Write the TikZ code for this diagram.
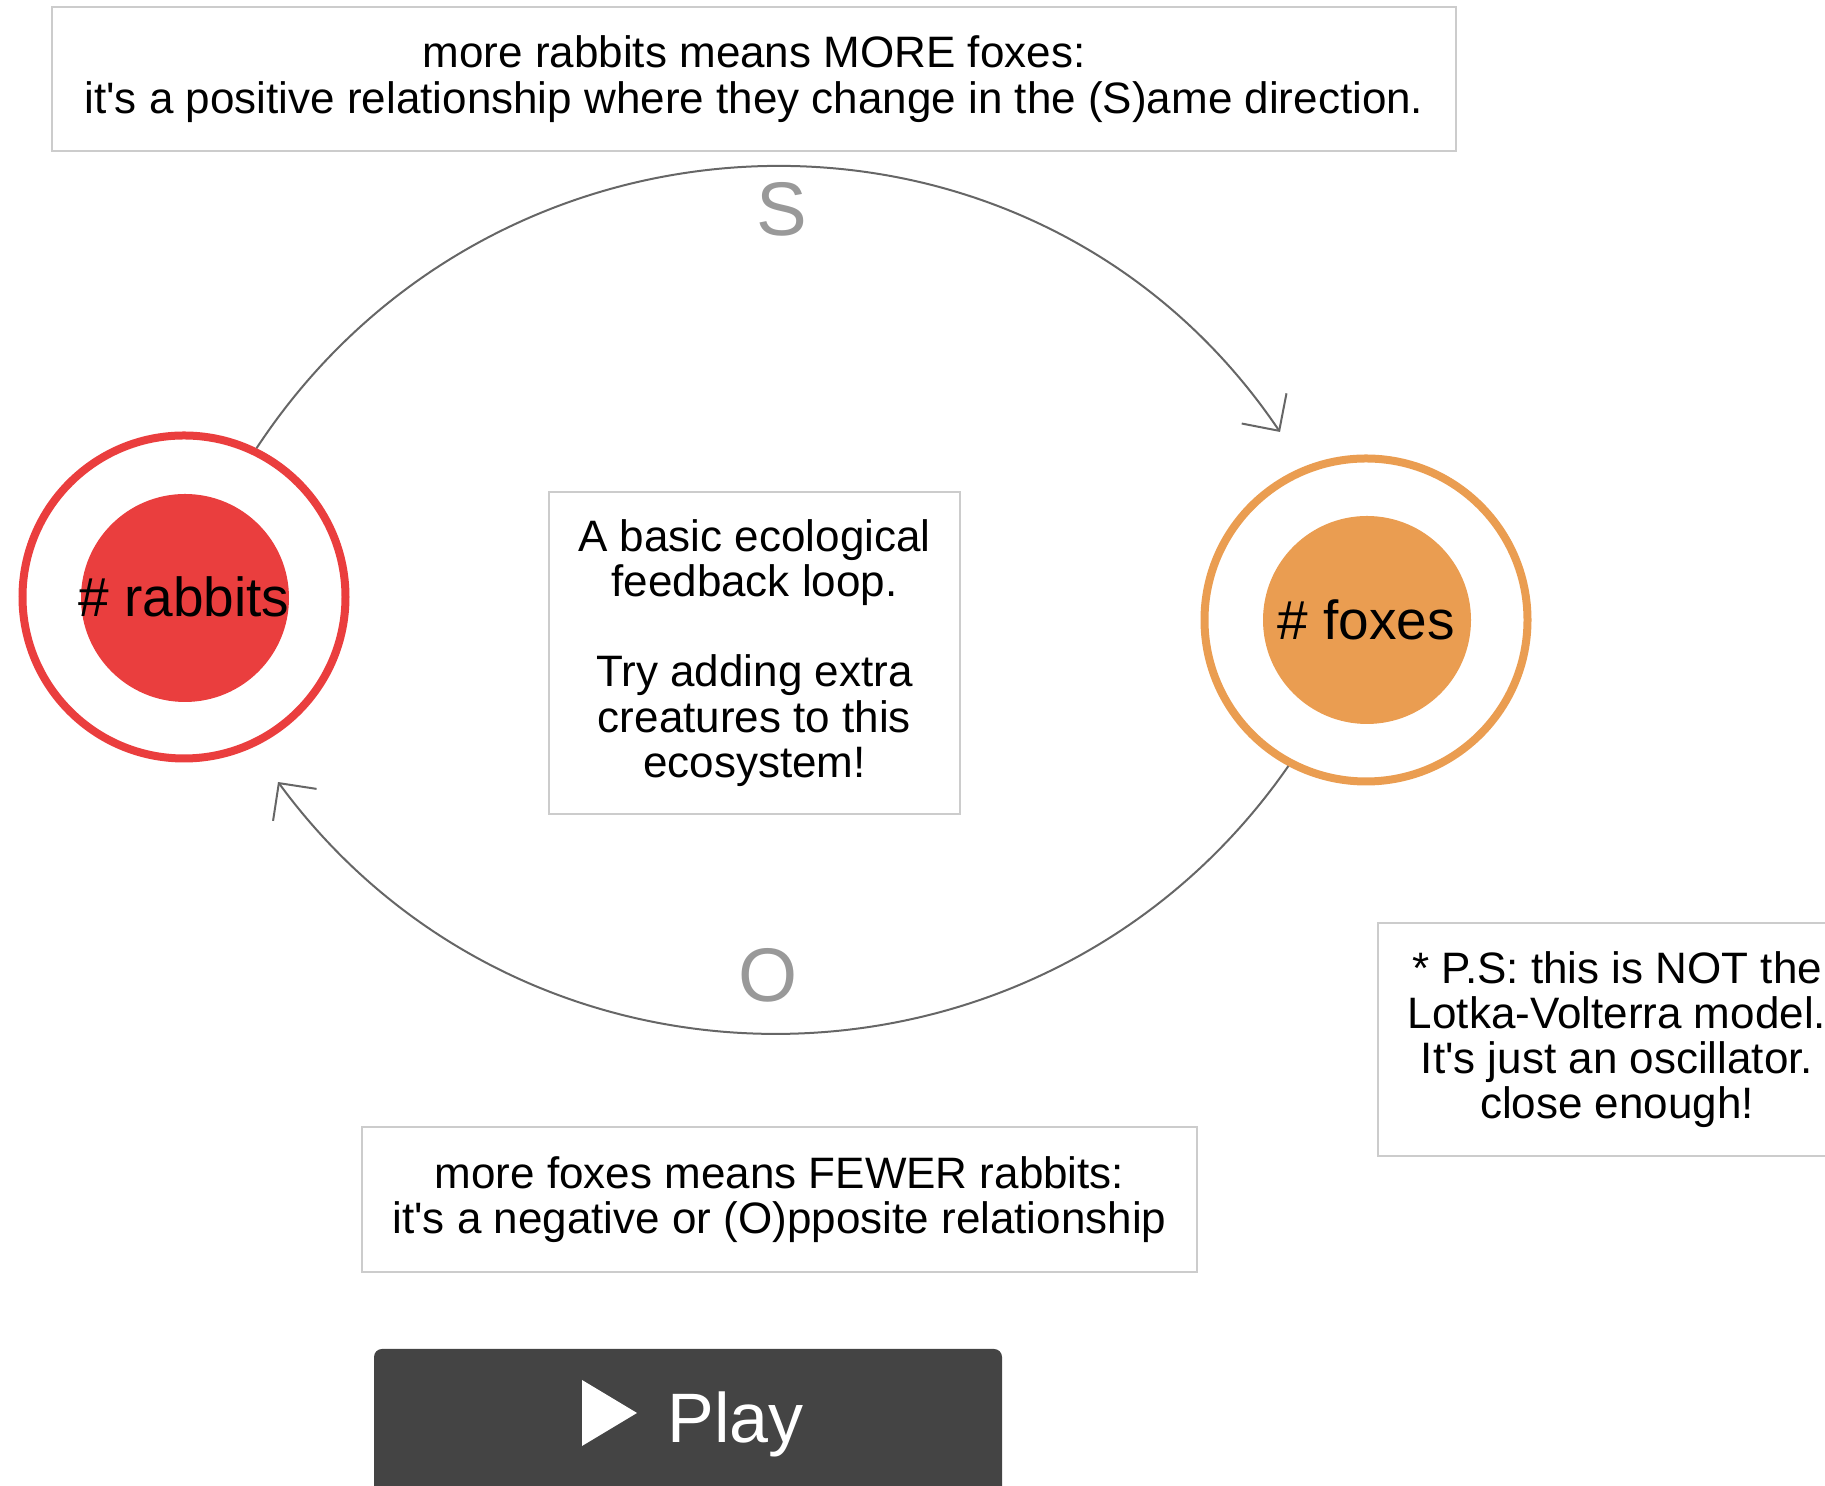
\documentclass[tikz,border=0pt]{standalone}
\usepackage{fontspec}
\setmainfont{Liberation Sans}
\usetikzlibrary{arrows.meta}
\definecolor{rabbitred}{HTML}{EA3E3E}
\definecolor{foxorange}{HTML}{EA9D51}
\definecolor{edgegray}{HTML}{666666}
\definecolor{labelgray}{HTML}{999999}
\definecolor{boxgray}{HTML}{CCCCCC}
\definecolor{playgray}{HTML}{444444}
\begin{document}
\begin{tikzpicture}[x=0.5pt,y=0.5pt,
  notebox/.style={draw=boxgray, line width=1pt, fill=white, inner sep=0pt, align=center, font=\fontsize{22pt}{22.6pt}\selectfont},
  ringnode/.style={circle, line width=4pt, minimum size=161.5pt, inner sep=0pt, font=\fontsize{27.5pt}{30pt}\selectfont},
  corenode/.style={circle, minimum size=104pt, inner sep=0pt},
  loopedge/.style={draw=edgegray, line width=1pt, -{Straight Barb[length=13.5pt,width=27pt]}},
  signlabel/.style={text=labelgray, inner sep=0pt, font=\fontsize{38pt}{40pt}\selectfont},
]
\useasboundingbox (0,0) rectangle (1825,1486);

% text boxes
\node[notebox, minimum width=702pt, minimum height=72pt, font=\fontsize{22pt}{23.25pt}\selectfont] (top) at (754,1407)
  {more rabbits means MORE foxes:\\it\textquotesingle s a positive relationship where they change in the (S)ame direction.};
\node[notebox, minimum width=205.5pt, minimum height=161pt] (mid) at (754.5,833)
  {A basic ecological\\feedback loop.\\[22.6pt]Try adding extra\\creatures to this\\ecosystem!};
\node[notebox, minimum width=417.5pt, minimum height=72.5pt, font=\fontsize{22pt}{22.7pt}\selectfont] (bottom) at (779.5,286.5)
  {more foxes means FEWER rabbits:\\it\textquotesingle s a negative or (O)pposite relationship};
\node[notebox, minimum width=239pt, minimum height=116.5pt] (ps) at (1617,446.5)
  {* P.S: this is NOT the\\Lotka-Volterra model.\\It\textquotesingle s just an oscillator.\\close enough!};

% creature nodes
\node[corenode, fill=rabbitred] (rc) at (185,888) {};
\node[ringnode, draw=rabbitred] (r) at (184,889) {\# rabbits};
\node[corenode, fill=foxorange] (fc) at (1367,866) {};
\node[ringnode, draw=foxorange] (f) at (1366,866) {\# foxes};

% connectors
\coordinate (tipS) at (1280,1054);
\coordinate (tipO) at (278,704);
\draw[loopedge] (r.64.5) .. controls (498,1405) and (1035,1417) .. (tipS);
\draw[loopedge] (f.242.8) .. controls (1045.6,370.3) and (529.6,361.5) .. (tipO);
\node[signlabel] (S) at (782,1277) {S};
\node[signlabel] (O) at (768,511) {O};

% play button
\node[fill=playgray, rounded corners=4pt, minimum width=314pt, minimum height=78.5pt, inner sep=0pt] (play) at (688,58.5) {};
\fill[white] (582,106) -- (637,73) -- (582,40) -- cycle;
\node[anchor=base west, text=white, inner sep=0pt, font=\fontsize{35pt}{40pt}\selectfont] (playtext) at (667,43) {Play};
\end{tikzpicture}
\end{document}
